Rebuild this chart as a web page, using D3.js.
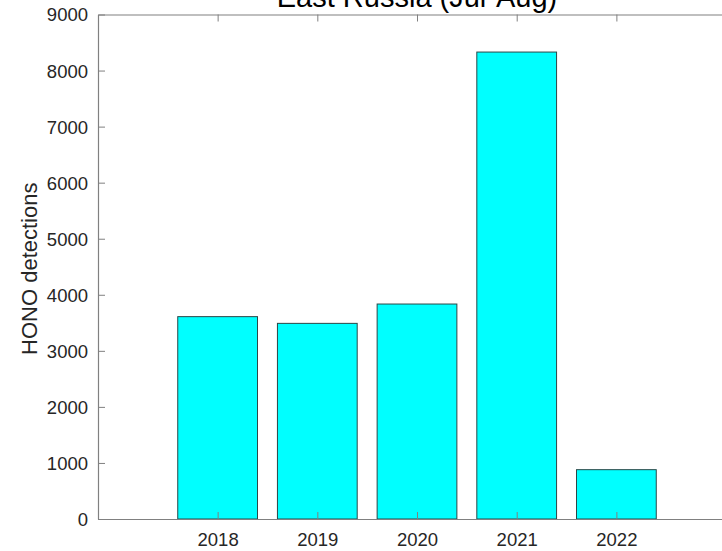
<!DOCTYPE html>
<html>
<head>
<meta charset="utf-8">
<script src="https://cdn.jsdelivr.net/npm/d3@7"></script>
<style>
  html, body { margin: 0; padding: 0; background: #fff; }
  svg { display: block; font-family: "Liberation Sans", Arial, Helvetica, sans-serif; }
</style>
</head>
<body>
<svg id="chart" width="722" height="551"></svg>
<script>
// HONO detections per summer season (Jul-Aug), East Russia
const years = [2018, 2019, 2020, 2021, 2022];
const detections = [3610, 3490, 3835, 8330, 880];
const yTicks = [0, 1000, 2000, 3000, 4000, 5000, 6000, 7000, 8000, 9000];
const titleText = "East Russia (Jul-Aug)";
const yLabelText = "HONO detections";

const plotLeft = 98, plotTop = 14.5, plotBottom = 519, plotRight = 736;

const svg = d3.select("#chart");

const x = d3.scaleLinear().domain([2016.8, 2023.2]).range([plotLeft, plotRight]);
const y = d3.scaleLinear().domain([0, 9000]).range([plotBottom, plotTop]);
const barW = x(2018.4) - x(2017.6);

const textColor = "#262626";
const axisColor = "#808080";

// bars
svg.append("g").selectAll("rect")
  .data(years)
  .join("rect")
  .attr("x", (d) => x(d) - barW / 2)
  .attr("y", (d, i) => y(detections[i]))
  .attr("width", barW)
  .attr("height", (d, i) => y(0) - y(detections[i]))
  .attr("fill", "#00ffff")
  .attr("stroke", "#2b4747")
  .attr("stroke-width", 1);

// bottom axis (ticks point inward)
const xAxis = d3.axisBottom(x).tickValues(years).tickFormat(d3.format("d"))
  .tickSizeInner(-7).tickSizeOuter(0).tickPadding(14);
const gx = svg.append("g").attr("transform", `translate(0,${plotBottom})`).call(xAxis);

// top axis, ticks only
const xTop = d3.axisTop(x).tickValues(years).tickFormat("")
  .tickSizeInner(-7).tickSizeOuter(0);
const gt = svg.append("g").attr("transform", `translate(0,${plotTop})`).call(xTop);

// left axis
const yAxis = d3.axisLeft(y).tickValues(yTicks).tickFormat(d3.format("d"))
  .tickSizeInner(-7).tickSizeOuter(0).tickPadding(10);
const gy = svg.append("g").attr("transform", `translate(${plotLeft},0)`).call(yAxis);

[gx, gt, gy].forEach((g) => {
  g.select(".domain").attr("stroke", axisColor).attr("stroke-width", 1.2);
  g.selectAll(".tick line").attr("stroke", axisColor).attr("stroke-width", 1);
  g.selectAll(".tick text").attr("fill", textColor)
    .style("font-size", "18.5px").style("font-family", "Liberation Sans, Arial, sans-serif");
});
gx.selectAll(".tick text").attr("dy", "0.71em");
gy.selectAll(".tick text").attr("dy", "0.35em");

// title (partially above the canvas)
svg.append("text")
  .attr("x", (plotLeft + plotRight) / 2)
  .attr("y", 7)
  .attr("text-anchor", "middle")
  .attr("fill", "#000")
  .style("font-size", "29px")
  .text(titleText);

// y axis label
svg.append("text")
  .attr("transform", `translate(37,${(plotTop + plotBottom) / 2 + 2}) rotate(-90)`)
  .attr("text-anchor", "middle")
  .attr("fill", textColor)
  .style("font-size", "22px")
  .text(yLabelText);
</script>
</body>
</html>
